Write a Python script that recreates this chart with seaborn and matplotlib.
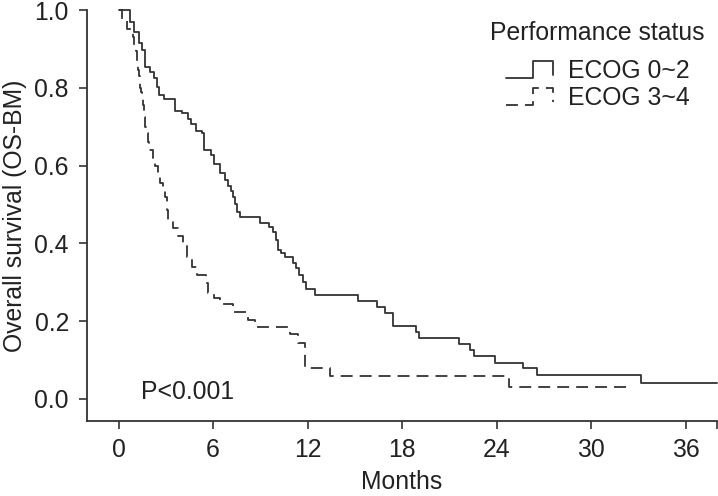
import numpy as np
import pandas as pd
import matplotlib
matplotlib.use("Agg")
import matplotlib.pyplot as plt
import seaborn as sns
from matplotlib.legend_handler import HandlerBase
from matplotlib.lines import Line2D

# ---- data (Kaplan-Meier step points: time in months, survival) ----
t_ecog02 = [0, 0.7, 0.97, 1.29, 1.5, 1.71, 2.03, 2.24, 2.45, 2.56, 2.87, 3.6, 4.0, 4.4,
            4.6, 4.95, 5.3, 5.45, 5.85, 6.05, 6.45, 6.78, 6.97, 7.15, 7.3, 7.42, 7.55,
            7.73, 9.0, 9.53, 9.8, 10.0, 10.1, 10.3, 10.58, 11.1, 11.3, 11.47, 11.7, 11.88,
            12.48, 15.2, 16.4, 16.9, 17.4, 18.9, 19.1, 21.6, 22.3, 22.56, 23.9, 25.7,
            26.6, 33.2, 38.0]
s_ecog02 = [1.0, 0.97, 0.944, 0.914, 0.897, 0.854, 0.841, 0.824, 0.803, 0.781, 0.771,
            0.740, 0.734, 0.720, 0.706, 0.690, 0.683, 0.640, 0.627, 0.605, 0.580, 0.563,
            0.548, 0.535, 0.519, 0.500, 0.480, 0.468, 0.453, 0.443, 0.429, 0.409, 0.383,
            0.375, 0.366, 0.349, 0.337, 0.319, 0.300, 0.283, 0.267, 0.252, 0.237, 0.221,
            0.188, 0.173, 0.157, 0.141, 0.126, 0.111, 0.093, 0.080, 0.062, 0.042, 0.042]

t_ecog34 = [0, 0.2, 0.55, 0.93, 1.0, 1.1, 1.2, 1.25, 1.3, 1.35, 1.42, 1.5, 1.55, 1.62,
            1.7, 1.78, 1.85, 1.95, 2.2, 2.3, 2.5, 2.65, 2.8, 2.98, 3.08, 3.15, 3.46, 3.8,
            4.12, 4.37, 4.67, 4.98, 5.57, 5.7, 6.04, 6.46, 7.3, 8.25, 8.68, 10.9, 11.4,
            11.85, 13.4, 24.8, 32.3]
s_ecog34 = [1.0, 0.975, 0.95, 0.93, 0.91, 0.895, 0.86, 0.845, 0.83, 0.80, 0.79, 0.77,
            0.755, 0.725, 0.70, 0.685, 0.66, 0.64, 0.62, 0.60, 0.58, 0.555, 0.535, 0.52,
            0.486, 0.46, 0.44, 0.42, 0.396, 0.366, 0.34, 0.319, 0.297, 0.272, 0.259,
            0.243, 0.223, 0.203, 0.186, 0.167, 0.145, 0.08, 0.06, 0.032, 0.032]

group_labels = ["ECOG 0~2", "ECOG 3~4"]
legend_title = "Performance status"
x_ticks = [0, 6, 12, 18, 24, 30, 36]
y_ticks = [0.0, 0.2, 0.4, 0.6, 0.8, 1.0]
p_text = "P<0.001"

# ---- style ----
sns.set_style("ticks")
plt.rcParams["font.family"] = ["Liberation Sans", "DejaVu Sans"]
FS = 17.8
INK = "#333333"
TXT = "#222222"

fig = plt.figure(figsize=(7.18, 4.96), dpi=100)
ax = fig.add_axes([87 / 718, 75 / 496, 630 / 718, 411 / 496])

df1 = pd.DataFrame({"t": t_ecog02, "s": s_ecog02})
df2 = pd.DataFrame({"t": t_ecog34, "s": s_ecog34})

lw = 1.3
sns.lineplot(data=df1, x="t", y="s", ax=ax, estimator=None, sort=False,
             drawstyle="steps-post", color=INK, linewidth=lw, linestyle="-",
             label=group_labels[0], clip_on=False)
sns.lineplot(data=df2, x="t", y="s", ax=ax, estimator=None, sort=False,
             drawstyle="steps-post", color=INK, linewidth=lw,
             linestyle=(0, (6.6, 3.9)), label=group_labels[1], clip_on=False)

ax.set_xlim(-2, 38)
ax.set_ylim(-0.0566, 1.0)
ax.set_xticks(x_ticks + [38])
ax.set_xticklabels([str(v) for v in x_ticks] + [""])
ax.set_yticks(y_ticks)
ax.set_yticklabels([f"{v:.1f}" for v in y_ticks])
ax.tick_params(axis="both", direction="out", length=6, width=1.2, color=INK,
               labelsize=FS, labelcolor=TXT)
ax.tick_params(axis="x", pad=6)
ax.tick_params(axis="y", pad=7)
for side in ["top", "right"]:
    ax.spines[side].set_visible(False)
for side in ["left", "bottom"]:
    ax.spines[side].set_color(INK)
    ax.spines[side].set_linewidth(1.3)

ax.set_xlabel("Months", fontsize=FS, color=TXT, labelpad=6)
ax.set_ylabel("Overall survival (OS-BM)", fontsize=FS, color=TXT, labelpad=5)

ax.text(1.4, 0.0, p_text, fontsize=FS, color=TXT, ha="left", va="baseline")


class StepHandler(HandlerBase):
    def create_artists(self, legend, orig_handle, xdescent, ydescent, width,
                       height, fontsize, trans):
        x0, y0 = -xdescent, -ydescent
        xs = [x0, x0 + 0.57 * width, x0 + 0.57 * width, x0 + width, x0 + width]
        ys = [y0, y0, y0 + height, y0 + height, y0 + 0.15 * height]
        line = Line2D(xs, ys)
        line.update_from(orig_handle)
        line.set_drawstyle("default")
        line.set_data(xs, ys)
        line.set_transform(trans)
        return [line]


handles = ax.get_lines()[:2]
leg = ax.legend(handles, group_labels, frameon=False,
                fontsize=FS, loc="upper right",
                bbox_to_anchor=(690 / 718, 437 / 496), bbox_transform=fig.transFigure,
                handler_map={Line2D: StepHandler()}, handlelength=1.9,
                handleheight=0.7, handletextpad=0.6, labelspacing=0.12,
                borderpad=0.0, borderaxespad=0.0)
for t in leg.get_texts():
    t.set_color(TXT)

fig.text(597 / 718, 1 - 33 / 496, legend_title, fontsize=FS, color=TXT,
         ha="center", va="center")

fig.savefig("out.png", dpi=100)
